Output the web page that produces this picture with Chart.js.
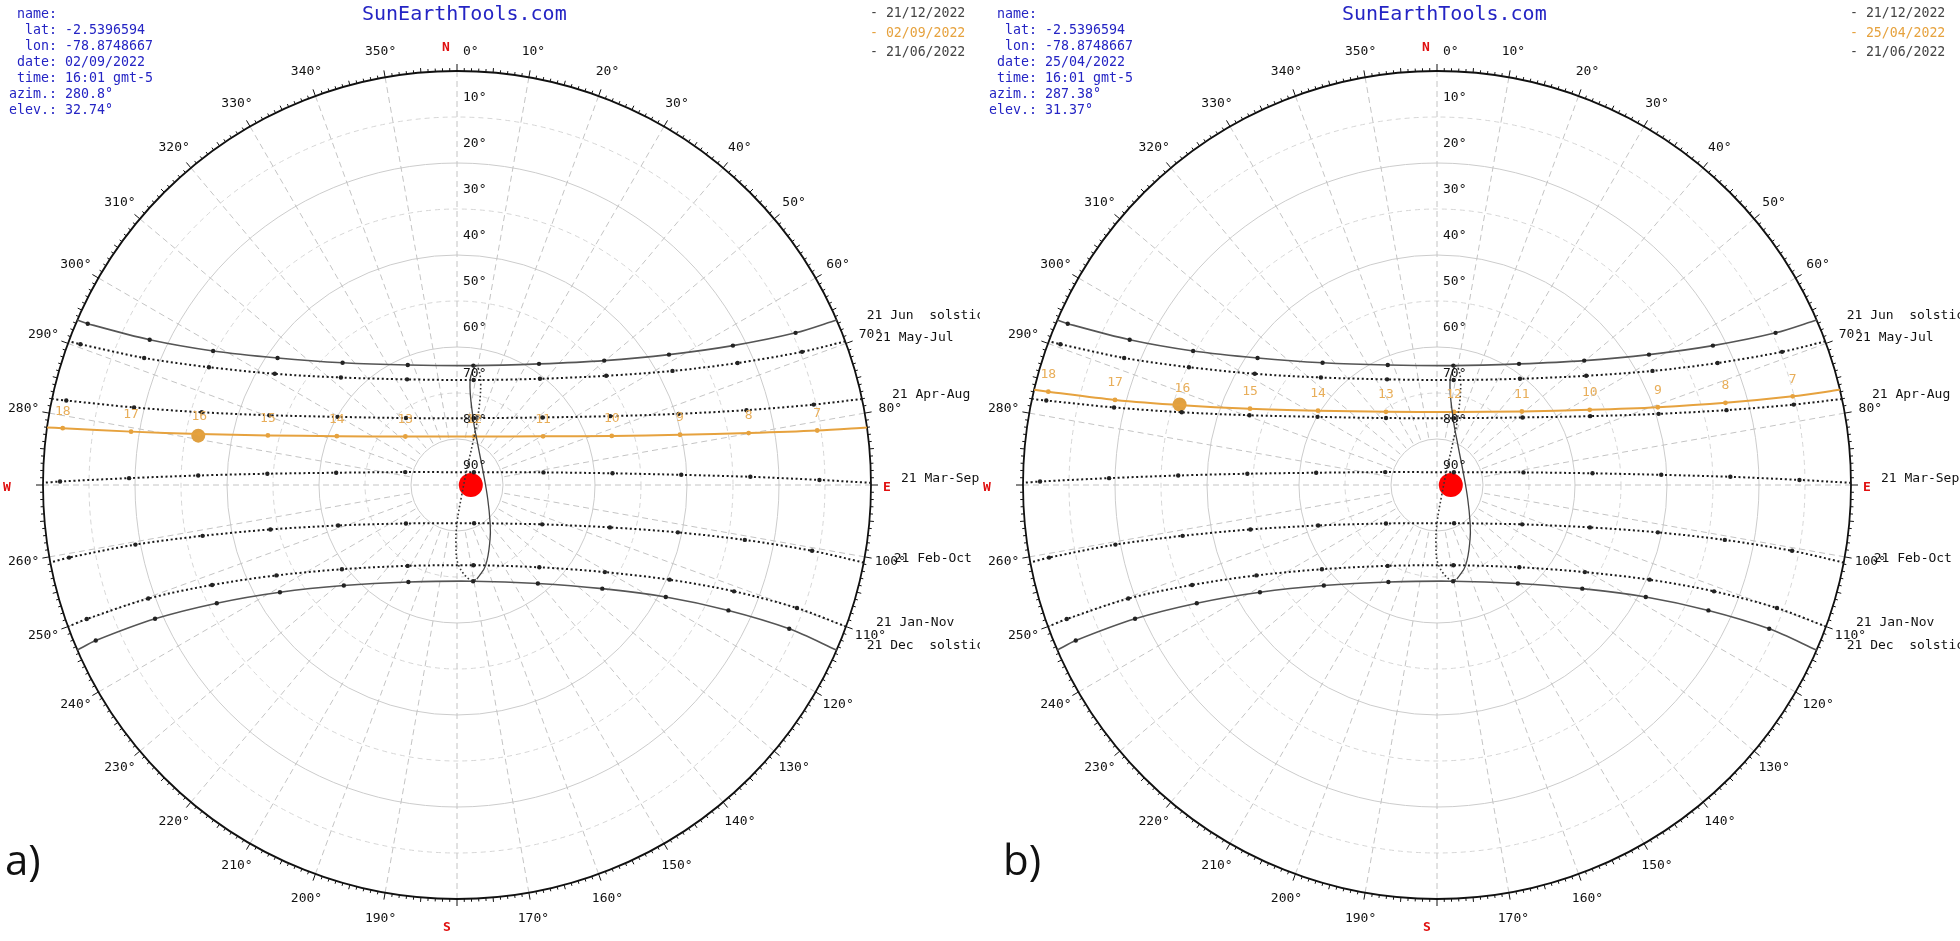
<!DOCTYPE html>
<html>
<head>
<meta charset="utf-8">
<script src="https://cdn.jsdelivr.net/npm/chart.js@4.4.0/dist/chart.umd.min.js"></script>
<style>
  body { margin: 0; background: #fff; width: 1960px; height: 941px; overflow: hidden; position: relative; }
  .panel { position: absolute; top: 0; width: 980px; height: 941px; }
  .tag { position: absolute; font-family: "Open Sans", sans-serif; font-size: 42px; color: #111; line-height: 1; }
</style>
</head>
<body>
<div class="panel" style="left:0"><canvas id="chartA" width="980" height="941"></canvas></div>
<div class="panel" style="left:980px"><canvas id="chartB" width="980" height="941"></canvas></div>
<div class="tag" style="left:5px;top:838px">a)</div>
<div class="tag" style="left:1003px;top:838px">b)</div>
<script>
// sun paths: sunrise, 7h ... 18h, sunset (azimuth / elevation in degrees)
const hourLabels = ['7', '8', '9', '10', '11', '12', '13', '14', '15', '16', '17', '18'];

const junAz = [66.5, 65.8, 63.2, 58.4, 49.8, 34.1, 7.8, 337.7, 316.9, 305.3, 298.8, 295.3, 293.6, 293.5];
const junEl = [0, 9.3, 22.8, 35.9, 48.1, 58.2, 63.8, 61.8, 53.6, 42.2, 29.5, 16.1, 2.4, 0];
const mayAz = [69.7, 68.9, 66.5, 62.1, 53.8, 38.0, 9.0, 334.7, 312.8, 301.4, 295.4, 292.1, 290.5, 290.3];
const mayEl = [0, 9.6, 23.5, 37.0, 49.8, 60.7, 66.9, 64.6, 55.6, 43.6, 30.3, 16.6, 2.6, 0];
const aprAz = [78.0, 77.3, 75.5, 72.2, 65.8, 51.7, 14.3, 322.7, 299.7, 290.4, 285.9, 283.5, 282.2, 282.0];
const aprEl = [0, 10.5, 25.0, 39.4, 53.5, 66.3, 75.0, 71.7, 60.1, 46.5, 32.3, 17.8, 3.1, 0];
const marAz = [89.7, 89.2, 88.4, 87.4, 85.7, 81.7, 52.9, 284.0, 275.8, 273.4, 272.1, 271.2, 270.5, 270.3];
const marEl = [0, 11.2, 26.2, 41.2, 56.1, 71.0, 85.4, 78.4, 63.6, 48.7, 33.7, 18.7, 3.7, 0];
const febAz = [100.8, 100.5, 100.8, 102.1, 105.5, 114.8, 155.9, 233.0, 251.2, 256.6, 258.7, 259.5, 259.4, 259.2];
const febEl = [0, 11.5, 26.3, 40.9, 55.5, 69.6, 80.9, 76.1, 62.7, 48.3, 33.6, 18.9, 4.2, 0];
const janAz = [110.0, 109.9, 111.0, 114.0, 120.5, 135.0, 168.4, 211.4, 233.8, 243.4, 247.8, 249.8, 250.1, 250.0];
const janEl = [0, 11.4, 25.5, 39.4, 52.7, 64.7, 72.2, 69.4, 59.0, 46.1, 32.5, 18.5, 4.4, 0];
const decAz = [113.5, 113.4, 114.8, 118.2, 125.5, 140.6, 170.5, 206.6, 228.4, 238.8, 243.8, 246.1, 246.7, 246.5];
const decEl = [0, 11.3, 25.0, 38.5, 51.2, 62.3, 68.8, 66.4, 57.1, 45.0, 31.8, 18.2, 4.5, 0];

// path of the chosen day
const sepAz = [82.0, 81.4, 79.9, 77.3, 72.4, 60.5, 19.6, 313.2, 292.1, 284.7, 281.2, 279.3, 278.2, 278.0];
const sepEl = [0, 10.8, 25.6, 40.3, 54.7, 68.5, 78.8, 74.6, 61.8, 47.5, 32.9, 18.2, 3.4, 0];
const aprDayAz = [76.7, 76.0, 74.1, 70.6, 63.8, 49.1, 13.1, 325.1, 302.0, 292.2, 287.4, 284.8, 283.5, 283.3];
const aprDayEl = [0, 10.3, 24.8, 39.1, 53.0, 65.6, 73.7, 70.6, 59.5, 46.1, 32.0, 17.6, 3.1, 0];

// 12:00 analemma, Jan -> Jun (solid) and Jun -> Jan (dotted)
const anaFirstAz = [168.1, 160.5, 148.6, 138.7, 115.2, 65.2, 28.1, 13.6, 7.1, 8.6];
const anaFirstEl = [69.1, 71.4, 76.2, 79.1, 82.6, 83.7, 80.3, 75.1, 67.1, 63.7];
const anaSecondAz = [8.6, 10.3, 13.2, 17.0, 20.6, 32.0, 160.3, 179.9, 181.0, 178.9, 171.5, 168.1];
const anaSecondEl = [63.7, 64.2, 67.4, 74.5, 80.3, 85.9, 87.2, 81.8, 77.3, 72.6, 68.9, 69.1];

const markerAz = [90];
const markerEl = [87];

const elevTicks = [0, 10, 20, 30, 40, 50, 60, 70, 80, 90];
const ringEls = [10, 20, 30, 40, 50, 60, 70, 80];
const legendDates = ['21/12/2022', '21/06/2022'];

const MONO = '"DejaVu Sans Mono", monospace';
const ORANGE = '#e6a23e';

function toXY(az, el) {
  return az.map((a, i) => {
    const z = 90 - el[i];
    const r = a * Math.PI / 180;
    return { x: z * Math.sin(r), y: z * Math.cos(r) };
  });
}

function endRadius(arr, r) {
  return arr.map((_, i) => (i === 0 || i === arr.length - 1) ? 0 : r);
}

function pathSet(az, el, label, solid) {
  return {
    data: toXY(az, el),
    endLabel: label,
    showLine: true,
    borderColor: solid ? '#555' : '#1a1a1a',
    borderWidth: solid ? 1.6 : 2,
    borderDash: solid ? [] : [2, 2.6],
    tension: 0.3,
    pointRadius: endRadius(az, 2.2),
    pointBackgroundColor: '#222',
    pointBorderWidth: 0,
    clip: false
  };
}

function sunDiagram(day) {
  return {
    id: 'sunDiagram',
    beforeDatasetsDraw(chart) {
      const { ctx, scales: { x, y } } = chart;
      const cx = x.getPixelForValue(0), cy = y.getPixelForValue(0);
      const k = x.getPixelForValue(1) - cx;
      const R = 90 * k;
      ctx.save();
      ctx.lineWidth = 1;
      ringEls.forEach(el => {
        ctx.beginPath();
        if (el % 20 === 0) { ctx.setLineDash([]); ctx.strokeStyle = '#cccccc'; }
        else { ctx.setLineDash([5, 4]); ctx.strokeStyle = '#d6d6d6'; }
        ctx.arc(cx, cy, (90 - el) * k, 0, Math.PI * 2);
        ctx.stroke();
      });
      // radial lines every 10 deg, cardinal ones reach the zenith
      ctx.setLineDash([6, 4]);
      ctx.strokeStyle = '#c4c4c4';
      for (let a = 0; a < 360; a += 10) {
        const r = a * Math.PI / 180;
        const inner = a % 90 === 0 ? 0 : 10 * k;
        ctx.beginPath();
        ctx.moveTo(cx + R * Math.sin(r), cy - R * Math.cos(r));
        ctx.lineTo(cx + inner * Math.sin(r), cy - inner * Math.cos(r));
        ctx.stroke();
      }
      ctx.setLineDash([]);
      ctx.strokeStyle = '#111';
      ctx.lineWidth = 1.8;
      ctx.beginPath();
      ctx.arc(cx, cy, R, 0, Math.PI * 2);
      ctx.stroke();
      ctx.lineWidth = 1;
      for (let a = 0; a < 360; a++) {
        const len = a % 10 === 0 ? 7 : (a % 5 === 0 ? 4.5 : 3);
        const r = a * Math.PI / 180;
        ctx.beginPath();
        ctx.moveTo(cx + R * Math.sin(r), cy - R * Math.cos(r));
        ctx.lineTo(cx + (R + len) * Math.sin(r), cy - (R + len) * Math.cos(r));
        ctx.stroke();
      }
      ctx.restore();
    },
    afterDatasetsDraw(chart) {
      const { ctx, scales: { x, y } } = chart;
      const cx = x.getPixelForValue(0), cy = y.getPixelForValue(0);
      const k = x.getPixelForValue(1) - cx;
      const R = 90 * k;
      ctx.save();
      ctx.textBaseline = 'middle';

      // azimuth labels
      ctx.font = '13px ' + MONO;
      ctx.fillStyle = '#111';
      ctx.textAlign = 'center';
      for (let a = 10; a < 360; a += 10) {
        if (a % 90 === 0) continue;
        const r = a * Math.PI / 180;
        ctx.fillText(a + '°', cx + (R + 26) * Math.sin(r), cy - (R + 26) * Math.cos(r));
      }
      // elevation labels
      ctx.textAlign = 'left';
      elevTicks.forEach(el => {
        ctx.fillText(el + '°', cx + 6, cy - (90 - el) * k - 19);
      });
      // compass
      ctx.font = 'bold 13px ' + MONO;
      ctx.fillStyle = '#e01010';
      ctx.textAlign = 'center';
      [['N', 0, 437, -11, 0], ['E', 90, 430, 0, 3], ['S', 180, 443, -10, 0], ['W', 270, 450, 0, 3]].forEach(([t, a, r, dx, dy]) => {
        const ang = a * Math.PI / 180;
        ctx.fillText(t, cx + r * Math.sin(ang) + dx, cy - r * Math.cos(ang) + dy);
      });

      // path labels at sunrise end
      ctx.font = '13px ' + MONO;
      ctx.fillStyle = '#111';
      ctx.textAlign = 'left';
      chart.data.datasets.forEach((ds, i) => {
        if (!ds.endLabel) return;
        const p = chart.getDatasetMeta(i).data[0];
        ctx.fillText(ds.endLabel, p.x + 30, p.y - 4);
      });
      // hour labels on the day path
      chart.data.datasets.forEach((ds, i) => {
        if (!ds.hourLabels) return;
        const pts = chart.getDatasetMeta(i).data;
        ctx.fillStyle = '#e8ae5a';
        ctx.textAlign = 'center';
        ds.hourLabels.forEach((h, j) => {
          const p = pts[j + 1];
          ctx.fillText(h, p.x, p.y - 17);
        });
      });

      // header texts
      ctx.textAlign = 'left';
      ctx.font = '13.3px ' + MONO;
      ctx.fillStyle = '#2424c4';
      const info = [' name:', '  lat: -2.5396594', '  lon: -78.8748667', ' date: ' + day.date,
        ' time: 16:01 gmt-5', 'azim.: ' + day.azim + '°', 'elev.: ' + day.elev + '°'];
      info.forEach((t, i) => ctx.fillText(t, 9, 15 + i * 15.9));
      ctx.font = '20px ' + MONO;
      ctx.fillText('SunEarthTools.com', 362, 15);
      ctx.font = '13.2px ' + MONO;
      const legend = [[legendDates[0], '#444'], [day.date, ORANGE], [legendDates[1], '#444']];
      legend.forEach(([t, c], i) => {
        ctx.fillStyle = c;
        ctx.fillText('- ' + t, 870, 14 + i * 19.5);
      });
      ctx.restore();
    }
  };
}

function buildChart(id, day) {
  const datasets = [
    { data: toXY(anaFirstAz, anaFirstEl), showLine: true, borderColor: '#444', borderWidth: 1.3,
      tension: 0.4, pointRadius: 0, clip: false },
    { data: toXY(anaSecondAz, anaSecondEl), showLine: true, borderColor: '#333', borderWidth: 1.6,
      borderDash: [1.6, 2.4], tension: 0.4, pointRadius: 0, clip: false },
    pathSet(decAz, decEl, '21 Dec  solstice', true),
    pathSet(janAz, janEl, '21 Jan-Nov', false),
    pathSet(febAz, febEl, '21 Feb-Oct', false),
    pathSet(marAz, marEl, '21 Mar-Sep equinox', false),
    pathSet(aprAz, aprEl, '21 Apr-Aug', false),
    pathSet(mayAz, mayEl, '21 May-Jul', false),
    pathSet(junAz, junEl, '21 Jun  solstice', true),
    { data: toXY(day.az, day.el), hourLabels: hourLabels, showLine: true, borderColor: ORANGE,
      borderWidth: 2, tension: 0.3, pointRadius: endRadius(day.az, 2.4), pointBackgroundColor: ORANGE,
      pointBorderWidth: 0, clip: false },
    { data: toXY([day.azim], [day.elev]), pointRadius: 7, pointBackgroundColor: '#e0a040',
      pointBorderWidth: 0, clip: false },
    { data: toXY(markerAz, markerEl), pointRadius: 12, pointBackgroundColor: '#ff0000',
      pointBorderWidth: 0, clip: false }
  ];
  return new Chart(document.getElementById(id), {
    type: 'scatter',
    data: { datasets: datasets },
    options: {
      responsive: false,
      animation: false,
      layout: { padding: { left: 43, top: 71, right: 109, bottom: 42 } },
      scales: {
        x: { display: false, min: -90, max: 90 },
        y: { display: false, min: -90, max: 90 }
      },
      plugins: { legend: { display: false }, tooltip: { enabled: false } }
    },
    plugins: [sunDiagram(day)]
  });
}

buildChart('chartA', { date: '02/09/2022', azim: 280.8, elev: 32.74, az: sepAz, el: sepEl });
buildChart('chartB', { date: '25/04/2022', azim: 287.38, elev: 31.37, az: aprDayAz, el: aprDayEl });
</script>
</body>
</html>
